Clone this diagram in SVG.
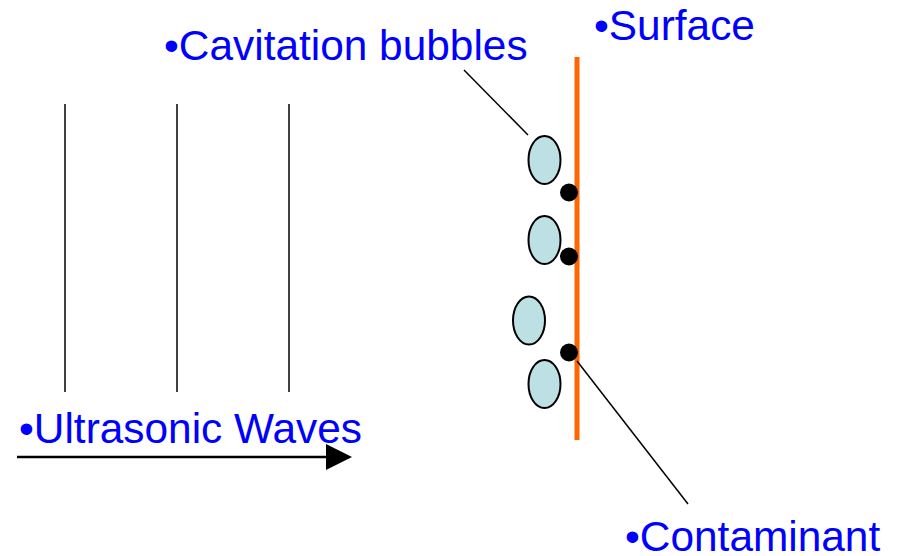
<svg xmlns="http://www.w3.org/2000/svg" width="901" height="556" viewBox="0 0 901 556">
<style>
.lbl{font-family:"Liberation Sans",Arial,sans-serif;font-size:42.4px;fill:#0000FF}
.wave{stroke:#000;stroke-width:1.5}
.bub{fill:#BDE0E4;stroke:#000;stroke-width:2}
.dot{fill:#000}
.lead{stroke:#000;stroke-width:1.5;fill:none}
</style>
<defs>
<marker id="ah" markerWidth="26" markerHeight="26" refX="0" refY="13" orient="auto" markerUnits="userSpaceOnUse">
<path d="M0,0 L26,13 L0,26 Z" fill="#000"/>
</marker>
</defs>
<rect width="901" height="556" fill="#fff"/>
<g id="waves">
<line class="wave" x1="65" y1="104" x2="65" y2="392"/>
<line class="wave" x1="177" y1="104" x2="177" y2="392"/>
<line class="wave" x1="289" y1="104" x2="289" y2="392"/>
</g>
<g id="surface">
<line x1="577" y1="57" x2="577" y2="440" stroke="#FF6600" stroke-width="5"/>
</g>
<g id="bubbles">
<ellipse class="bub" cx="544.5" cy="160" rx="16" ry="24"/>
<ellipse class="bub" cx="544.5" cy="240" rx="16" ry="24"/>
<ellipse class="bub" cx="529" cy="320.5" rx="16" ry="24"/>
<ellipse class="bub" cx="544.5" cy="384" rx="16" ry="24"/>
</g>
<g id="contaminants">
<circle class="dot" cx="569" cy="192.5" r="9"/>
<circle class="dot" cx="569" cy="256.5" r="9"/>
<circle class="dot" cx="569" cy="352.5" r="9"/>
</g>
<g id="connectors">
<line class="lead" x1="464" y1="70" x2="528" y2="135"/>
<line class="lead" x1="577" y1="361" x2="688" y2="504"/>
<line x1="17" y1="457" x2="326" y2="457" stroke="#000" stroke-width="2.5" marker-end="url(#ah)"/>
</g>
<g id="labels">
<text class="lbl" x="164" y="60">•Cavitation bubbles</text>
<text class="lbl" x="594" y="40">•Surface</text>
<text class="lbl" x="19" y="443">•Ultrasonic Waves</text>
<text class="lbl" x="625" y="551">•Contaminant</text>
</g>
</svg>
